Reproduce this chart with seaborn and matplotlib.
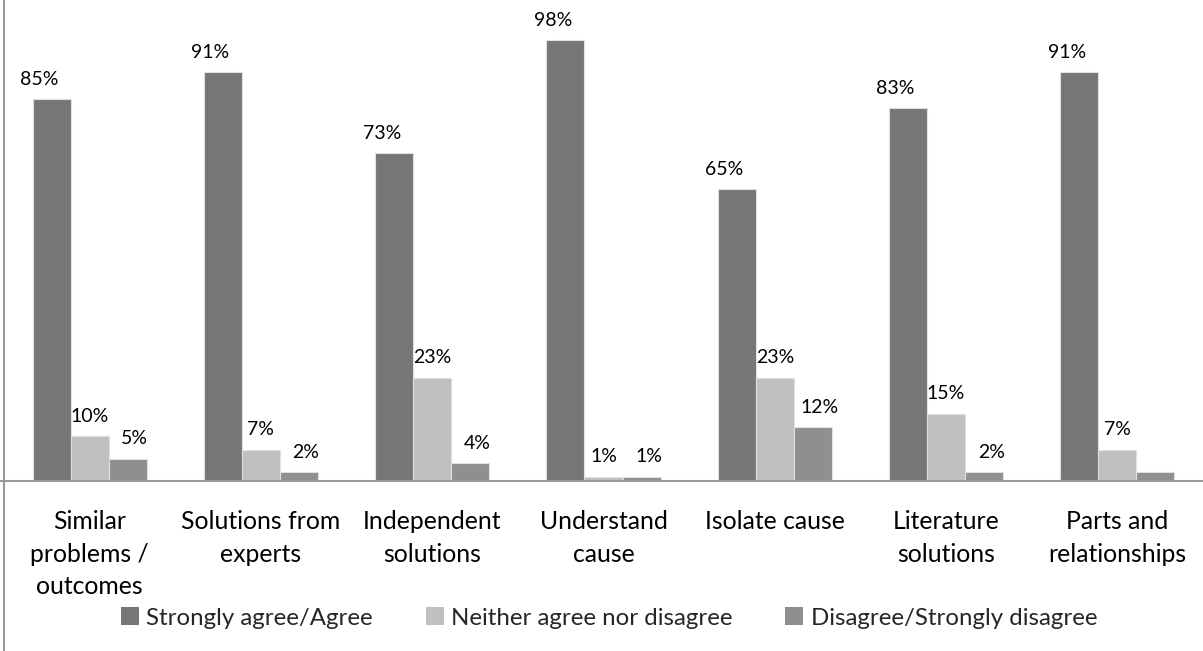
import matplotlib
matplotlib.use("Agg")
import matplotlib.pyplot as plt
from matplotlib.lines import Line2D
from matplotlib.patches import Patch
import pandas as pd
import seaborn as sns

categories = [
    "Similar\nproblems /\noutcomes",
    "Solutions from\nexperts",
    "Independent\nsolutions",
    "Understand\ncause",
    "Isolate cause",
    "Literature\nsolutions",
    "Parts and\nrelationships",
]
series_names = [
    "Strongly agree/Agree",
    "Neither agree nor disagree",
    "Disagree/Strongly disagree",
]
agree = [85, 91, 73, 98, 65, 83, 91]
neutral = [10, 7, 23, 1, 23, 15, 7]
disagree = [5, 2, 4, 1, 12, 2, 2]
# the last disagree bar carries no value label
disagree_labelled = [True, True, True, True, True, True, False]

colors = ["#767676", "#c0c0c0", "#8f8f8f"]

rows = []
for name, vals in zip(series_names, [agree, neutral, disagree]):
    for cat, v in zip(categories, vals):
        rows.append({"category": cat, "series": name, "value": v})
df = pd.DataFrame(rows)

sns.set_theme(style="white")
plt.rcParams["font.family"] = ["Lato", "DejaVu Sans"]

fig = plt.figure(figsize=(12.03, 6.51), dpi=100)
ax = fig.add_axes([4 / 1203, 170 / 651, 1199 / 1203, 481 / 651])

sns.barplot(
    data=df, x="category", y="value", hue="series",
    order=categories, hue_order=series_names,
    palette=colors, width=0.667, dodge=True,
    edgecolor="#e0e0e0", linewidth=0.8, legend=False, ax=ax,
)

ax.set_xlim(-0.5, len(categories) - 0.5)
ax.set_ylim(0, 107)
ax.set_xlabel("")
ax.set_ylabel("")
ax.set_yticks([])
for s in ax.spines.values():
    s.set_visible(False)
ax.tick_params(axis="x", length=0, pad=21, labelsize=17.8, labelcolor="#000000")
for t in ax.get_xticklabels():
    t.set_linespacing(1.5)

# value labels above each bar
offsets = [-9, 0, 5]
flags = [[True] * len(categories), [True] * len(categories), disagree_labelled]
for container, dx, show in zip(ax.containers, offsets, flags):
    for bar, ok in zip(container, show):
        if not ok:
            continue
        h = bar.get_height()
        ax.annotate(
            f"{h:.0f}%",
            (bar.get_x() + bar.get_width() / 2, h),
            xytext=(dx, 8), textcoords="offset points",
            ha="center", va="bottom", fontsize=14, color="#000000",
        )

# chart frame lines: baseline and left edge
fig.add_artist(Line2D([0, 1], [170 / 651, 170 / 651], transform=fig.transFigure,
                      color="#9a9a9a", linewidth=1.5))
fig.add_artist(Line2D([4 / 1203, 4 / 1203], [0, 1], transform=fig.transFigure,
                      color="#9a9a9a", linewidth=1.5))

handles = [Patch(facecolor=c, edgecolor="none") for c in colors]
fig.legend(
    handles, series_names, loc="center", bbox_to_anchor=(609 / 1203, 33 / 651),
    ncol=3, frameon=False, fontsize=17.3, handlelength=0.75, handleheight=0.75,
    handletextpad=0.3, columnspacing=2.2,
)

fig.savefig("out.png", dpi=100)
